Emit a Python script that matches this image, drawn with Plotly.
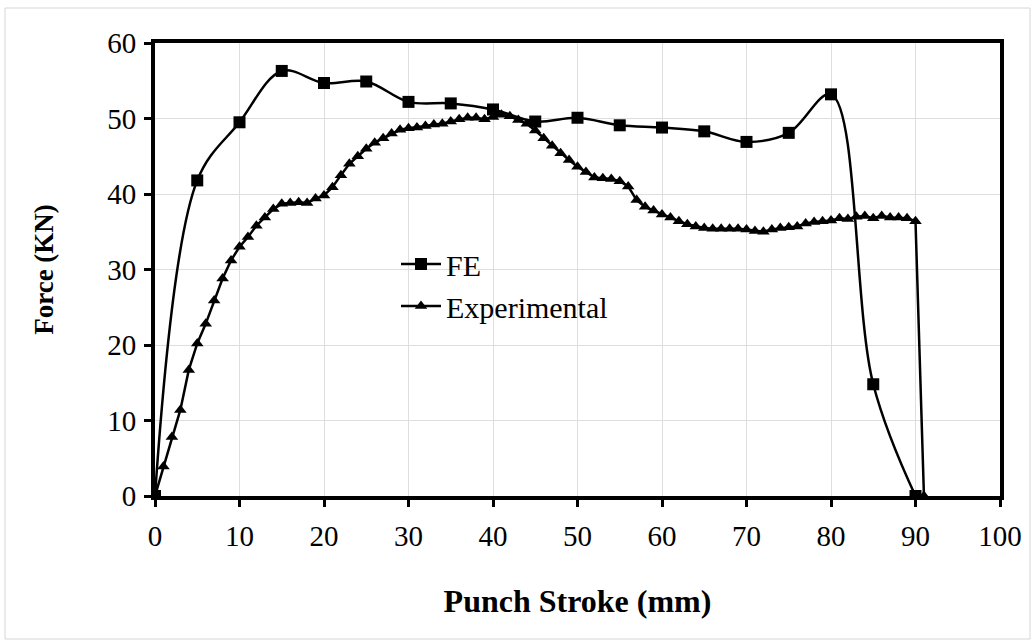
import plotly.graph_objects as go

# Finite-element prediction (every 5 mm of stroke)
fe_stroke = [0, 5, 10, 15, 20, 25, 30, 35, 40, 45, 50, 55, 60, 65, 70, 75, 80, 85, 90]
fe_force = [0, 41.8, 49.5, 56.3, 54.7, 54.9, 52.2, 52.0, 51.2, 49.6, 50.1,
            49.1, 48.8, 48.3, 46.9, 48.1, 53.2, 14.8, 0]

# Measured load (every 1 mm of stroke, then unloading)
exp_stroke = list(range(0, 91)) + [91]
exp_force = [
    0, 3.9, 7.8, 11.4, 16.7, 20.2, 22.8, 25.9, 28.8, 31.2,
    33.0, 34.3, 35.8, 36.9, 38.0, 38.7, 38.8, 38.9, 38.8, 39.4,
    39.8, 40.9, 42.5, 44.0, 45.0, 46.0, 46.8, 47.4, 48.0, 48.5,
    48.7, 48.8, 49.0, 49.2, 49.3, 49.6, 49.9, 50.1, 50.1, 49.9,
    50.2, 50.5, 50.3, 49.8, 49.3, 48.4, 47.4, 46.4, 45.4, 44.5,
    43.6, 42.9, 42.2, 42.1, 42.0, 41.7, 41.0, 39.2, 38.3, 37.8,
    37.3, 36.9, 36.4, 36.0, 35.7, 35.5, 35.4, 35.4, 35.4, 35.4,
    35.3, 35.1, 35.0, 35.3, 35.5, 35.6, 35.7, 36.1, 36.3, 36.4,
    36.5, 36.8, 36.7, 37.0, 37.1, 36.8, 37.1, 36.9, 36.9, 36.8,
    36.4, 0,
]

x_ticks = [0, 10, 20, 30, 40, 50, 60, 70, 80, 90, 100]
y_ticks = [0, 10, 20, 30, 40, 50, 60]

SERIF = "Liberation Serif, Times New Roman, serif"
GRID = "#dedede"

fig = go.Figure()
fig.add_trace(go.Scatter(
    x=fe_stroke, y=fe_force, name="FE", mode="lines+markers",
    line=dict(color="black", width=2.5, shape="spline", smoothing=1.0),
    marker=dict(symbol="square", size=12, color="black"),
))
fig.add_trace(go.Scatter(
    x=exp_stroke, y=exp_force, name="Experimental", mode="lines+markers",
    line=dict(color="black", width=2.5),
    marker=dict(symbol="triangle-up", size=11, color="black"),
))

L, R, T, B = 155, 35, 43, 145
W, H = 1035, 641
pw, ph = W - L - R, H - T - B

# light frame around the whole chart
fig.add_shape(
    type="rect", xref="paper", yref="paper",
    x0=(5 - L) / pw, x1=(1030 - L) / pw,
    y0=-(H - 2 - T - ph) / ph, y1=(T + ph - 8) / ph,
    line=dict(color="#d6d6d6", width=1), layer="below",
)

fig.update_layout(
    width=W, height=H,
    margin=dict(l=L, r=R, t=T, b=B, autoexpand=False),
    paper_bgcolor="white", plot_bgcolor="white",
    font=dict(family=SERIF, color="black", size=29),
    showlegend=True,
    legend=dict(
        x=(396 - L) / pw, y=(T + ph - 238) / ph, xanchor="left", yanchor="top",
        bgcolor="rgba(0,0,0,0)", font=dict(family=SERIF, size=30),
        tracegroupgap=0, itemwidth=40,
    ),
    xaxis=dict(
        range=[0, 100], tickvals=x_ticks, ticktext=[str(v) for v in x_ticks],
        showgrid=True, gridcolor=GRID, gridwidth=1, zeroline=False,
        showline=True, linecolor="black", linewidth=4, mirror=True,
        ticks="outside", ticklen=7, tickwidth=3, tickcolor="black",
        tickfont=dict(family=SERIF, size=29), ticklabelstandoff=4,
        title=dict(text="<b>Punch Stroke (mm)</b>", font=dict(family=SERIF, size=32), standoff=40),
    ),
    yaxis=dict(
        range=[0, 60], tickvals=y_ticks, ticktext=[str(v) for v in y_ticks],
        showgrid=True, gridcolor=GRID, gridwidth=1, zeroline=False,
        showline=True, linecolor="black", linewidth=4, mirror=True,
        ticks="outside", ticklen=7, tickwidth=3, tickcolor="black",
        tickfont=dict(family=SERIF, size=29), ticklabelstandoff=2,
        title=dict(text="<b>Force (KN)</b>", font=dict(family=SERIF, size=27), standoff=47),
    ),
)

fig.write_html("out.html")
